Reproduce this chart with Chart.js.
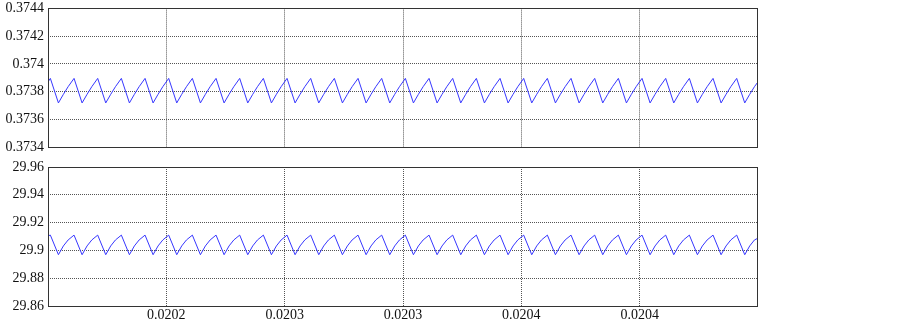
<!DOCTYPE html>
<html>
<head>
<meta charset="utf-8">
<script src="https://cdn.jsdelivr.net/npm/chart.js@4"></script>
<style>
  body { margin: 0; background: #fff; }
  #wrap { position: relative; width: 903px; height: 321px; overflow: hidden; }
  canvas { position: absolute; left: 0; }
</style>
</head>
<body>
<div id="wrap">
  <canvas id="chartTop" width="903" height="164" style="top:-4px"></canvas>
  <canvas id="chartBottom" width="903" height="171" style="top:150px"></canvas>
</div>
<script>
// time in microseconds (0.02015 s .. 0.02045 s)
const timeUs = [
  20150,
  20151, 20154.4, 20156.5, 20158.5,
  20161, 20164.4, 20166.5, 20168.5,
  20171, 20174.4, 20176.5, 20178.5,
  20181, 20184.4, 20186.5, 20188.5,
  20191, 20194.4, 20196.5, 20198.5,
  20201, 20204.4, 20206.5, 20208.5,
  20211, 20214.4, 20216.5, 20218.5,
  20221, 20224.4, 20226.5, 20228.5,
  20231, 20234.4, 20236.5, 20238.5,
  20241, 20244.4, 20246.5, 20248.5,
  20251, 20254.4, 20256.5, 20258.5,
  20261, 20264.4, 20266.5, 20268.5,
  20271, 20274.4, 20276.5, 20278.5,
  20281, 20284.4, 20286.5, 20288.5,
  20291, 20294.4, 20296.5, 20298.5,
  20301, 20304.4, 20306.5, 20308.5,
  20311, 20314.4, 20316.5, 20318.5,
  20321, 20324.4, 20326.5, 20328.5,
  20331, 20334.4, 20336.5, 20338.5,
  20341, 20344.4, 20346.5, 20348.5,
  20351, 20354.4, 20356.5, 20358.5,
  20361, 20364.4, 20366.5, 20368.5,
  20371, 20374.4, 20376.5, 20378.5,
  20381, 20384.4, 20386.5, 20388.5,
  20391, 20394.4, 20396.5, 20398.5,
  20401, 20404.4, 20406.5, 20408.5,
  20411, 20414.4, 20416.5, 20418.5,
  20421, 20424.4, 20426.5, 20428.5,
  20431, 20434.4, 20436.5, 20438.5,
  20441, 20444.4, 20446.5, 20448.5,
  20450
];

const topValues = [
  0.37387,
  0.373895, 0.373718, 0.37378, 0.373835,
  0.373895, 0.373718, 0.37378, 0.373835,
  0.373895, 0.373718, 0.37378, 0.373835,
  0.373895, 0.373718, 0.37378, 0.373835,
  0.373895, 0.373718, 0.37378, 0.373835,
  0.373895, 0.373718, 0.37378, 0.373835,
  0.373895, 0.373718, 0.37378, 0.373835,
  0.373895, 0.373718, 0.37378, 0.373835,
  0.373895, 0.373718, 0.37378, 0.373835,
  0.373895, 0.373718, 0.37378, 0.373835,
  0.373895, 0.373718, 0.37378, 0.373835,
  0.373895, 0.373718, 0.37378, 0.373835,
  0.373895, 0.373718, 0.37378, 0.373835,
  0.373895, 0.373718, 0.37378, 0.373835,
  0.373895, 0.373718, 0.37378, 0.373835,
  0.373895, 0.373718, 0.37378, 0.373835,
  0.373895, 0.373718, 0.37378, 0.373835,
  0.373895, 0.373718, 0.37378, 0.373835,
  0.373895, 0.373718, 0.37378, 0.373835,
  0.373895, 0.373718, 0.37378, 0.373835,
  0.373895, 0.373718, 0.37378, 0.373835,
  0.373895, 0.373718, 0.37378, 0.373835,
  0.373895, 0.373718, 0.37378, 0.373835,
  0.373895, 0.373718, 0.37378, 0.373835,
  0.373895, 0.373718, 0.37378, 0.373835,
  0.373895, 0.373718, 0.37378, 0.373835,
  0.373895, 0.373718, 0.37378, 0.373835,
  0.373895, 0.373718, 0.37378, 0.373835,
  0.373895, 0.373718, 0.37378, 0.373835,
  0.373895, 0.373718, 0.37378, 0.373835,
  0.37387
];

const bottomValues = [
  29.9105,
  29.911, 29.8969, 29.9032, 29.9075,
  29.911, 29.8969, 29.9032, 29.9075,
  29.911, 29.8969, 29.9032, 29.9075,
  29.911, 29.8969, 29.9032, 29.9075,
  29.911, 29.8969, 29.9032, 29.9075,
  29.911, 29.8969, 29.9032, 29.9075,
  29.911, 29.8969, 29.9032, 29.9075,
  29.911, 29.8969, 29.9032, 29.9075,
  29.911, 29.8969, 29.9032, 29.9075,
  29.911, 29.8969, 29.9032, 29.9075,
  29.911, 29.8969, 29.9032, 29.9075,
  29.911, 29.8969, 29.9032, 29.9075,
  29.911, 29.8969, 29.9032, 29.9075,
  29.911, 29.8969, 29.9032, 29.9075,
  29.911, 29.8969, 29.9032, 29.9075,
  29.911, 29.8969, 29.9032, 29.9075,
  29.911, 29.8969, 29.9032, 29.9075,
  29.911, 29.8969, 29.9032, 29.9075,
  29.911, 29.8969, 29.9032, 29.9075,
  29.911, 29.8969, 29.9032, 29.9075,
  29.911, 29.8969, 29.9032, 29.9075,
  29.911, 29.8969, 29.9032, 29.9075,
  29.911, 29.8969, 29.9032, 29.9075,
  29.911, 29.8969, 29.9032, 29.9075,
  29.911, 29.8969, 29.9032, 29.9075,
  29.911, 29.8969, 29.9032, 29.9075,
  29.911, 29.8969, 29.9032, 29.9075,
  29.911, 29.8969, 29.9032, 29.9075,
  29.911, 29.8969, 29.9032, 29.9075,
  29.911, 29.8969, 29.9032, 29.9075,
  29.9088
];

const xTicks = [20200, 20250, 20300, 20350, 20400];
const xTickLabels = ['0.0202', '0.0203', '0.0203', '0.0204', '0.0204'];

const topTicks = [0.3734, 0.3736, 0.3738, 0.374, 0.3742, 0.3744];
const topTickLabels = ['0.3734', '0.3736', '0.3738', '0.374', '0.3742', '0.3744'];

const bottomTicks = [29.86, 29.88, 29.9, 29.92, 29.94, 29.96];
const bottomTickLabels = ['29.86', '29.88', '29.9', '29.92', '29.94', '29.96'];

const serif = { family: "'Liberation Serif', 'DejaVu Serif', serif", size: 14 };

// draws the full box round the plot area
const boxPlugin = {
  id: 'box',
  afterDraw(chart) {
    const a = chart.chartArea;
    const ctx = chart.ctx;
    ctx.save();
    ctx.strokeStyle = '#333';
    ctx.lineWidth = 1;
    ctx.strokeRect(Math.round(a.left) + 0.5, Math.round(a.top) + 0.5,
      Math.round(a.right - a.left) - 1, Math.round(a.bottom - a.top));
    ctx.restore();
  }
};

function makeChart(id, values, yTicks, yLabels, showX, pad, xHeight) {
  return new Chart(document.getElementById(id).getContext('2d'), {
    type: 'line',
    data: {
      datasets: [{
        data: timeUs.map((t, i) => ({ x: t, y: values[i] })),
        borderColor: '#3636ff',
        borderWidth: 1,
        pointRadius: 0,
        fill: false,
        tension: 0
      }]
    },
    plugins: [boxPlugin],
    options: {
      responsive: false,
      animation: false,
      layout: { padding: pad },
      plugins: { legend: { display: false }, tooltip: { enabled: false } },
      scales: {
        x: {
          type: 'linear',
          min: 20150,
          max: 20450,
          afterBuildTicks: (s) => { s.ticks = xTicks.map(v => ({ value: v })); },
          afterFit: (s) => { s.height = xHeight; },
          grid: { color: '#555', drawTicks: false },
          border: { display: false, dash: [1, 1] },
          ticks: {
            display: showX,
            padding: 1,
            maxRotation: 0,
            color: '#111',
            font: serif,
            callback: (v, i) => xTickLabels[i]
          }
        },
        y: {
          min: yTicks[0],
          max: yTicks[yTicks.length - 1],
          afterBuildTicks: (s) => { s.ticks = yTicks.map(v => ({ value: v })); },
          afterFit: (s) => { s.width = 48; },
          grid: { color: '#555', drawTicks: false },
          border: { display: false, dash: [1, 1] },
          ticks: {
            padding: 4,
            color: '#111',
            font: serif,
            callback: (v, i) => yLabels[i]
          }
        }
      }
    }
  });
}

makeChart('chartTop', topValues, topTicks, topTickLabels, false,
  { top: 4, right: 145, left: 0, bottom: 0 }, 13);
makeChart('chartBottom', bottomValues, bottomTicks, bottomTickLabels, true,
  { top: 17, right: 145, left: 0, bottom: 0 }, 15);
</script>
</body>
</html>
